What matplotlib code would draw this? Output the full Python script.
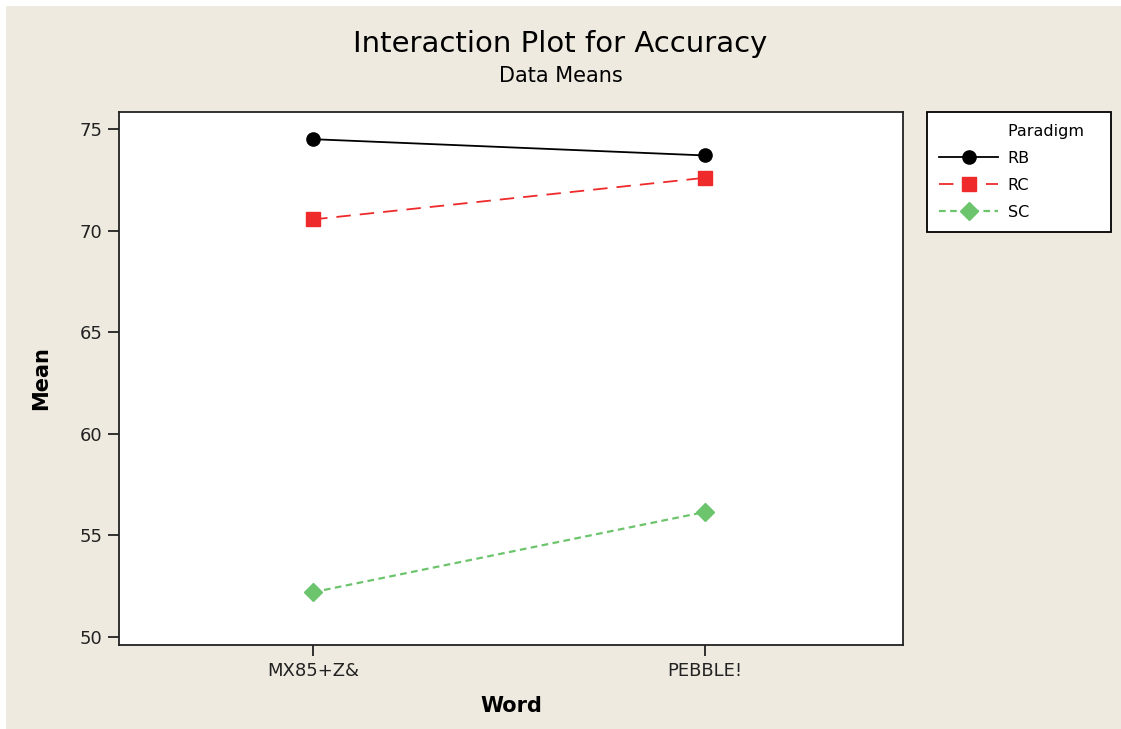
import matplotlib.pyplot as plt
from matplotlib.lines import Line2D
from matplotlib.patches import Rectangle

words = ["MX85+Z&", "PEBBLE!"]
paradigms = ["RB", "RC", "SC"]
rb_means = [74.5, 73.7]
rc_means = [70.55, 72.6]
sc_means = [52.2, 56.15]

bg = "#eeeae0"


def main():
    fig = plt.figure(figsize=(11.21, 7.29), dpi=100)
    fig.patch.set_facecolor("white")
    # beige panel with a thin white border on the top and left
    fig.patches.append(Rectangle((6 / 1121, 0), 1, 1 - 6 / 729,
                                 transform=fig.transFigure,
                                 facecolor=bg, edgecolor="none", zorder=-10))

    ax = fig.add_axes([0.1062, 0.1152, 0.6993, 0.7312])
    ax.set_facecolor("white")
    x = list(range(len(words)))

    ax.plot(x, rb_means, color="black", lw=1.3, marker="o", ms=9.5,
            label="RB")
    ax.plot(x, rc_means, color="#ee2a2a", lw=1.3, ls=(0, (8, 5)),
            marker="s", ms=9.5, label="RC")
    ax.plot(x, sc_means, color="#6cc46c", lw=1.6, ls=(0, (3, 2)),
            marker="D", ms=9.5, label="SC")

    ax.set_xlim(-0.495, 1.505)
    ax.set_ylim(49.6, 75.84)
    ax.set_xticks(x)
    ax.set_xticklabels(words)
    ax.set_yticks([50, 55, 60, 65, 70, 75])
    ax.tick_params(axis="both", length=8, width=1.3, labelsize=13,
                   colors="#222222", pad=4)
    for s in ax.spines.values():
        s.set_linewidth(1.3)
        s.set_color("#222222")

    ax.set_xlabel("Word", fontsize=15, fontweight="bold", labelpad=12)
    ax.set_ylabel("Mean", fontsize=15, fontweight="bold", labelpad=20)

    fig.text(0.5, 1 - 44 / 729, "Interaction Plot for Accuracy",
             ha="center", va="center", fontsize=21)
    fig.text(0.5, 1 - 76 / 729, "Data Means", ha="center", va="center",
             fontsize=15)

    handles, labels = ax.get_legend_handles_labels()
    blank = Line2D([], [], color="none")
    leg = fig.legend([blank] + handles, ["Paradigm   "] + labels,
                     loc="upper left",
                     bbox_to_anchor=(927 / 1121, 1 - 112 / 729),
                     fontsize=11.5, frameon=True, fancybox=False,
                     edgecolor="black", framealpha=1, handlelength=3.7,
                     handletextpad=0.6, borderpad=0.75, labelspacing=0.75,
                     borderaxespad=0)
    leg.get_frame().set_linewidth(1.3)
    leg.get_frame().set_facecolor("white")

    fig.savefig("out.png", dpi=100, facecolor=fig.get_facecolor())


if __name__ == "__main__":
    main()
